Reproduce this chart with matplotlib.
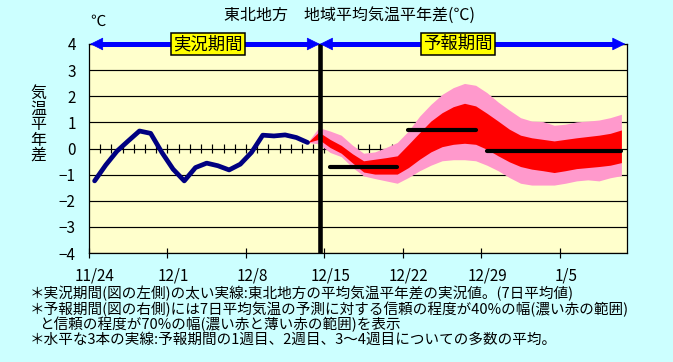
import matplotlib
matplotlib.use('Agg')
import matplotlib.pyplot as plt
import matplotlib.transforms as mtransforms
from matplotlib.patches import FancyArrowPatch

plt.rcParams['font.family'] = ['Noto Sans CJK JP', 'DejaVu Sans']

# ---------------- data ----------------
title = '東北地方　地域平均気温平年差(℃)'
unit_label = '℃'
y_label_chars = '気温平年差'

# x axis: days since 11/24
x_tick_days = [0, 7, 14, 21, 28, 35, 42]
x_tick_labels = ['11/24', '12/1', '12/8', '12/15', '12/22', '12/29', '1/5']
y_ticks = [4, 3, 2, 1, 0, -1, -2, -3, -4]
y_tick_labels = ['4', '3', '2', '1', '0', '−1', '−2', '−3', '−4']
day_marks = list(range(1, 48))

# observed 7-day mean anomaly
obs_days = [0.5, 1.5, 2.5, 3.5, 4.5, 5.5, 6.5, 7.5, 8.5, 9.5,
            10.5, 11.5, 12.5, 13.5, 14.5, 15.5, 16.5, 17.5, 18.5, 19.5]
obs_vals = [-1.24, -0.63, -0.10, 0.29, 0.67, 0.58, -0.15, -0.79, -1.24, -0.73,
            -0.56, -0.66, -0.82, -0.60, -0.15, 0.51, 0.48, 0.52, 0.42, 0.23]

# forecast ranges
fc_days = [19.5, 20.5, 21.5, 22.5, 23.5, 24.5, 25.5, 26.5, 27.5, 28.5,
           29.5, 30.5, 31.5, 32.5, 33.5, 34.5, 35.5, 36.5, 37.5, 38.5,
           39.5, 40.5, 41.5, 42.5, 43.5, 44.5, 45.5, 46.5, 47.5]
pink_hi = [0.23, 0.80, 0.67, 0.51, 0.13, -0.18, -0.13, 0.04, 0.23, 0.67,
           1.24, 1.69, 2.07, 2.33, 2.49, 2.42, 2.14, 1.78, 1.47, 1.18,
           1.05, 1.03, 0.89, 0.93, 1.02, 1.05, 1.09, 1.18, 1.31]
red_hi = [0.23, 0.63, 0.35, 0.12, -0.20, -0.47, -0.41, -0.35, -0.28, 0.16,
          0.61, 1.05, 1.37, 1.60, 1.73, 1.63, 1.35, 1.05, 0.74, 0.51,
          0.41, 0.35, 0.29, 0.35, 0.41, 0.46, 0.51, 0.58, 0.71]
red_lo = [0.23, 0.35, 0.04, -0.18, -0.55, -0.90, -0.98, -0.98, -0.98, -0.73,
          -0.41, -0.13, 0.07, 0.16, 0.20, 0.16, -0.03, -0.28, -0.51, -0.69,
          -0.79, -0.85, -0.92, -0.85, -0.77, -0.73, -0.69, -0.64, -0.54]
pink_lo = [0.23, 0.18, -0.15, -0.31, -0.72, -1.05, -1.15, -1.24, -1.33, -1.11,
           -0.85, -0.64, -0.47, -0.43, -0.43, -0.47, -0.64, -0.85, -1.11, -1.33,
           -1.40, -1.40, -1.40, -1.33, -1.24, -1.20, -1.24, -1.12, -1.04]

# weekly ensemble means
week_start = [21.5, 28.5, 35.5]
week_end = [27.5, 34.5, 47.5]
week_mean = [-0.69, 0.71, -0.08]

divider_day = 20.6
obs_period_label = '実況期間'
fc_period_label = '予報期間'
obs_label_day = 10.6
fc_label_day = 32.9

notes = [
    '＊実況期間(図の左側)の太い実線:東北地方の平均気温平年差の実況値。(7日平均値)',
    '＊予報期間(図の右側)には7日平均気温の予測に対する信頼の程度が40%の幅(濃い赤の範囲)',
    'と信頼の程度が70%の幅(濃い赤と薄い赤の範囲)を表示',
    '＊水平な3本の実線:予報期間の1週目、2週目、3～4週目についての多数の平均。',
]

# ---------------- figure ----------------
W, H = 673, 362
fig = plt.figure(figsize=(W / 100, H / 100), dpi=100, facecolor='#CCFFFF')


def fx(px):
    return px / W


def fy(py):
    return 1 - py / H


ax = fig.add_axes([89 / W, 1 - 253 / H, 538 / W, 209 / H])
ax.set_facecolor('#FFFFCC')
ax.set_xlim(0, 48)
ax.set_ylim(-4, 4)

for yv in y_ticks:
    ax.axhline(yv, color='black', lw=0.85, zorder=1)
ax.vlines(day_marks, -0.19, 0.19, color='black', lw=0.85, zorder=1)

ax.fill_between(fc_days, pink_lo, pink_hi, color='#FF99CC', lw=0, zorder=2)
ax.fill_between(fc_days, red_lo, red_hi, color='#FF0000', lw=0, zorder=3)

ax.plot(obs_days, obs_vals, color='#000080', lw=3.4, zorder=4,
        solid_joinstyle='round', solid_capstyle='round')

for s, e, m in zip(week_start, week_end, week_mean):
    ax.plot([s, e], [m, m], color='black', lw=3.0, zorder=5,
            solid_capstyle='round')

ax.plot([divider_day, divider_day], [-4, 4], color='black', lw=3.3, zorder=6,
        clip_on=False, solid_capstyle='butt')

# axes styling
for sp in ax.spines.values():
    sp.set_color('black')
    sp.set_linewidth(0.9)
ax.set_yticks(y_ticks)
ax.set_yticklabels(y_tick_labels)
ax.tick_params(axis='y', length=0, pad=9.5, labelsize=11, colors='black')
ax.set_xticks(x_tick_days)
ax.set_xticklabels([])
ax.tick_params(axis='x', direction='inout', length=6.5, width=0.85)

trans = mtransforms.blended_transform_factory(ax.transData, ax.transAxes) + \
    mtransforms.ScaledTranslation(6 / 100, 0, fig.dpi_scale_trans)
for d, lab in zip(x_tick_days, x_tick_labels):
    ax.text(d, -0.11, lab, transform=trans, ha='center', va='center',
            fontsize=11, color='black', clip_on=False)

# period arrows
arrow_y = 4
for a, b in [(0.1, divider_day), (divider_day, 47.85)]:
    ax.plot([a + 0.8, b - 0.8], [arrow_y, arrow_y], color='#0000FF', lw=3.6,
            zorder=7, clip_on=False, solid_capstyle='butt')
    arr = FancyArrowPatch((a, arrow_y), (b, arrow_y),
                          arrowstyle='<|-|>,head_length=0.85,head_width=0.42',
                          mutation_scale=10, lw=0.5, color='#0000FF',
                          shrinkA=0, shrinkB=0, zorder=7, clip_on=False,
                          transform=ax.transData)
    ax.add_patch(arr)

box = dict(boxstyle='square,pad=0.12', fc='#FFFF00', ec='black', lw=1.1)
ax.text(obs_label_day, arrow_y, obs_period_label, ha='center', va='center',
        fontsize=12.5, bbox=box, zorder=8, clip_on=False)
ax.text(fc_label_day, arrow_y, fc_period_label, ha='center', va='center',
        fontsize=12.5, bbox=box, zorder=8, clip_on=False)

# texts
fig.text(fx(350), fy(15), title, ha='center', va='center', fontsize=11.5)
fig.text(fx(98), fy(21.5), unit_label, ha='center', va='center', fontsize=11)
for i, ch in enumerate(y_label_chars):
    fig.text(fx(38.5), fy(93.5 + 15.5 * i), ch, ha='center', va='center',
             fontsize=11.5)

note_x = [30, 30, 39, 30]
note_y = [293.5, 309, 324.5, 340]
for t, x, y in zip(notes, note_x, note_y):
    fig.text(fx(x), fy(y), t, ha='left', va='center', fontsize=10.5)

fig.savefig('out.png', dpi=100, facecolor=fig.get_facecolor())
